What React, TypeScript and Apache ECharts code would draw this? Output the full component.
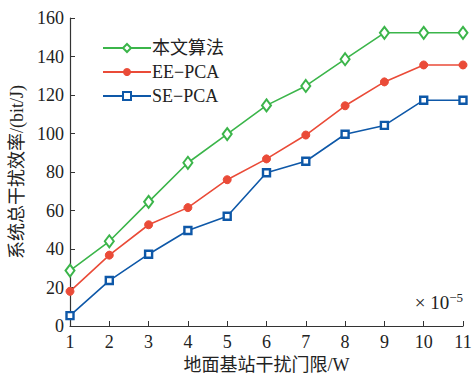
import React, { useEffect, useRef } from "react";
import * as echarts from "echarts";

const xValues = [1, 2, 3, 4, 5, 6, 7, 8, 9, 10, 11];
const seriesNames = ["本文算法", "EE−PCA", "SE−PCA"];
const proposed = [28.8, 44, 64.5, 84.8, 99.7, 114.6, 124.7, 138.6, 152.3, 152.3, 152.3];
const eePca = [18, 36.8, 52.6, 61.5, 76, 86.8, 99.2, 114.4, 126.8, 135.6, 135.6];
const sePca = [5.4, 23.6, 37.3, 49.6, 57, 79.6, 85.6, 99.6, 104.2, 117.3, 117.3];

const FONT = "'Liberation Serif', 'Times New Roman', 'Noto Sans CJK SC', serif";

export default function App() {
  const ref = useRef<HTMLDivElement>(null);
  useEffect(() => {
    if (!ref.current) return;
    const chart = echarts.init(ref.current, undefined, { renderer: "svg" });
    const toPairs = (arr: number[]) => xValues.map((x, i) => [x, arr[i]]);
    chart.setOption({
      animation: false,
      backgroundColor: "#ffffff",
      grid: { left: 70, right: 11, top: 18, bottom: 48, containLabel: false, outerBoundsMode: "none" },
      legend: {
        orient: "vertical",
        left: 97,
        top: 34,
        itemWidth: 48,
        itemHeight: 10,
        itemGap: 6,
        textStyle: { fontFamily: FONT, fontSize: 18, color: "#222", padding: [0, 0, 0, -4] },
        data: seriesNames,
      },
      xAxis: {
        type: "value",
        min: 1,
        max: 11,
        interval: 1,
        name: "地面基站干扰门限/W",
        nameLocation: "middle",
        nameGap: 25,
        nameTextStyle: { fontFamily: FONT, fontSize: 18, color: "#222" },
        axisLine: { lineStyle: { color: "#333", width: 1.2 } },
        axisTick: { inside: true, length: 5, lineStyle: { color: "#333" } },
        axisLabel: { fontFamily: FONT, fontSize: 18, color: "#222", margin: 7 },
        splitLine: { show: false },
      },
      yAxis: {
        type: "value",
        min: 0,
        max: 160,
        interval: 20,
        name: "系统总干扰效率/(bit/J)",
        nameLocation: "middle",
        nameGap: 43,
        nameRotate: 90,
        nameTextStyle: { fontFamily: FONT, fontSize: 18, color: "#222" },
        axisLine: { show: true, lineStyle: { color: "#333", width: 1.2 } },
        axisTick: { show: true, inside: true, length: 5, lineStyle: { color: "#333" } },
        axisLabel: { fontFamily: FONT, fontSize: 18, color: "#222", margin: 6 },
        splitLine: { show: false },
      },
      graphic: [
        {
          type: "text",
          right: 11,
          top: 291,
          style: {
            text: "× 10{s|−5}",
            rich: { s: { fontSize: 13, verticalAlign: "top", fontFamily: FONT, fill: "#222", padding: [0, 0, 9, 0] } },
            fontFamily: FONT,
            fontSize: 19,
            fill: "#222",
          },
        },
      ],
      series: [
        {
          name: seriesNames[0],
          type: "line",
          data: toPairs(proposed),
          symbol: "diamond",
          symbolSize: [9, 12],
          lineStyle: { color: "#3bb54a", width: 1.6 },
          itemStyle: { color: "#ffffff", borderColor: "#3bb54a", borderWidth: 2 },
          z: 3,
        },
        {
          name: seriesNames[1],
          type: "line",
          data: toPairs(eePca),
          symbol: "circle",
          symbolSize: 8,
          lineStyle: { color: "#ea4b38", width: 1.6 },
          itemStyle: { color: "#ea4b38", borderColor: "#ea4b38" },
          z: 2,
        },
        {
          name: seriesNames[2],
          type: "line",
          data: toPairs(sePca),
          symbol: "rect",
          symbolSize: 7,
          lineStyle: { color: "#0e58a8", width: 1.6 },
          itemStyle: { color: "#ffffff", borderColor: "#0e58a8", borderWidth: 2.4 },
          z: 1,
        },
      ],
    });
    return () => chart.dispose();
  }, []);
  return <div ref={ref} style={{ width: 474, height: 374, position: "absolute", left: 0, top: 0 }} />;
}
